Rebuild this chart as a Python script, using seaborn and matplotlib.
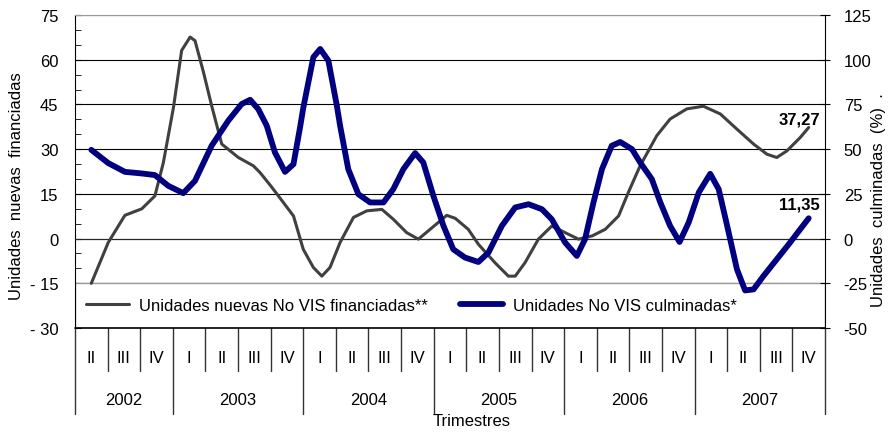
import numpy as np
import pandas as pd
import matplotlib
matplotlib.use("Agg")
import matplotlib.pyplot as plt
import matplotlib.transforms as mtransforms
from matplotlib.patches import Rectangle
import seaborn as sns

# time axis in quarters, 0 = 2002 II ... 22 = 2007 IV
t_fin = [0, 0.52, 1.03, 1.55, 1.95, 2.21, 2.52, 2.77, 3.03, 3.18, 3.44, 3.69, 4.0,
         4.51, 4.97, 5.17, 5.48, 5.69, 6.2, 6.5, 6.81, 7.07, 7.32, 7.63, 8.04, 8.45,
         8.91, 9.26, 9.67, 10.03, 10.39, 10.9, 11.16, 11.56, 11.87, 12.38, 12.79, 13.0,
         13.3, 13.71, 14.12, 14.53, 14.94, 15.36, 15.76, 16.17, 16.47, 16.83, 17.34,
         17.75, 18.26, 18.77, 19.29, 19.8, 20.31, 20.72, 21.02, 21.33, 21.74, 22.0]
financiadas = [-15.0, -1.3, 7.8, 10.0, 14.3, 25.5, 44.0, 63.1, 67.6, 66.4, 55.8, 44.6, 31.7,
               27.2, 24.4, 22.2, 18.0, 15.0, 7.6, -3.6, -9.7, -12.6, -9.7, -1.3, 7.1, 9.3,
               9.8, 6.5, 2.0, -0.2, 3.1, 7.8, 6.8, 3.1, -1.9, -8.1, -12.6, -12.6,
               -8.1, -0.2, 4.2, 2.0, -0.2, 0.9, 3.1, 7.6, 15.5, 24.4, 34.5,
               40.1, 43.5, 44.4, 41.8, 36.7, 31.7, 28.3, 27.2, 29.4, 33.9, 37.27]

t_cul = [0, 0.52, 1.03, 1.55, 1.95, 2.36, 2.82, 3.18, 3.69, 4.2, 4.61, 4.87, 5.12, 5.38,
         5.63, 5.94, 6.2, 6.4, 6.5, 6.81, 7.02, 7.27, 7.53, 7.63, 7.88, 8.19, 8.55, 8.96, 9.26,
         9.57, 9.93, 10.18, 10.49, 10.8, 11.1, 11.46, 11.87, 12.18, 12.59, 13.0, 13.41,
         13.82, 14.12, 14.53, 14.89, 15.14, 15.4, 15.66, 15.96, 16.22, 16.58, 16.83,
         17.19, 17.45, 17.75, 18.04, 18.32, 18.63, 18.98, 19.24, 19.5, 19.8, 20.05,
         20.31, 20.61, 21.02, 21.43, 21.74, 22.0]
culminadas = [49.6, 42.2, 37.3, 36.4, 35.5, 29.5, 25.4, 32.3, 51.9, 65.9, 75.2, 77.6, 72.4, 63.1,
              48.2, 37.3, 41.6, 62.0, 73.0, 101.4, 106.0, 99.5, 74.3, 63.1, 38.8, 24.8, 20.2, 20.2, 27.6,
              38.8, 47.8, 42.6, 23.9, 7.1, -6.0, -10.6, -13.1, -7.8, 7.1, 17.4, 19.2,
              16.4, 10.8, -2.2, -9.7, -0.4, 20.2, 38.8, 51.9, 54.0, 50.0, 42.6,
              33.2, 20.2, 7.1, -1.9, 9.0, 25.8, 36.2, 27.6, 7.1, -17.2, -29.0,
              -28.4, -21.0, -11.6, -2.2, 5.2, 11.35]

quarters = ["II", "III", "IV"] + ["I", "II", "III", "IV"] * 5
years = ["2002", "2003", "2004", "2005", "2006", "2007"]
quarters_per_year = [3, 4, 4, 4, 4, 4]

left_ticks = [-30, -15, 0, 15, 30, 45, 60, 75]
left_ticklabels = ["- 30", "- 15", "0", "15", "30", "45", "60", "75"]
right_ticks = [-50, -25, 0, 25, 50, 75, 100, 125]
right_ticklabels = ["-50", "-25", "0", "25", "50", "75", "100", "125"]

df_fin = pd.DataFrame({"t": t_fin, "v": financiadas})
df_cul = pd.DataFrame({"t": t_cul, "v": culminadas})

sns.set_style("white")
plt.rcParams["font.family"] = ["Liberation Sans", "DejaVu Sans"]
plt.rcParams["font.size"] = 12
plt.rcParams["text.color"] = "black"
plt.rcParams["axes.labelcolor"] = "black"
plt.rcParams["xtick.color"] = "black"
plt.rcParams["ytick.color"] = "black"

fig = plt.figure(figsize=(8.93, 4.35), dpi=100)
ax = fig.add_axes([75 / 893, 1 - 329 / 435, 750 / 893, 313 / 435])

sns.lineplot(data=df_fin, x="t", y="v", ax=ax, color="#404040", lw=2.2,
             estimator=None, sort=False, legend=False, zorder=3)
ax.set_xlim(-0.5, len(quarters) - 0.5)
ax.set_ylim(-30, 75)

ax2 = ax.twinx()
sns.lineplot(data=df_cul, x="t", y="v", ax=ax2, color="#000080", lw=4.2,
             estimator=None, sort=False, legend=False, zorder=3)
ax2.set_ylim(-50, 125)

# legend box between -15 and -30
box = Rectangle((0, -30), 1, 15, transform=mtransforms.blended_transform_factory(ax.transAxes, ax.transData),
                facecolor="white", edgecolor="#9a9a9a", lw=1, zorder=1)
ax.add_patch(box)
l1 = ax.get_lines()[0]
l2 = ax2.get_lines()[0]
leg = ax.legend([l1, l2], ["Unidades nuevas No VIS financiadas**", "Unidades No VIS culminadas*"],
                loc="center left", bbox_to_anchor=(0, 7.5 / 105), ncol=2,
                frameon=False, fontsize=12, handlelength=2.6, handletextpad=0.6,
                columnspacing=1.9, borderaxespad=0.25)

# grid and axes
ax.set_yticks(left_ticks)
ax.set_yticklabels(left_ticklabels)
ax.set_yticks(np.arange(-30, 76, 5), minor=True)
ax.yaxis.grid(True, color="black", lw=0.8, zorder=0)
ax.set_axisbelow(True)
ax.tick_params(axis="y", which="both", direction="in", length=4, color="black", pad=12,
               labelsize=12, labelcolor="black")
ax.spines["bottom"].set_position(("data", 0))
ax.spines["top"].set_color("#9a9a9a")
ax.spines["left"].set_color("black")
ax.spines["right"].set_visible(False)
ax.axhline(-30, color="black", lw=1.2, clip_on=False, zorder=4)
ax.set_xticks(np.arange(0, len(quarters) - 0.4, 0.5))
ax.tick_params(axis="x", direction="in", length=4, color="black", labelbottom=False)
ax.set_xlabel("")
ax.set_ylabel("")

ax2.set_yticks(right_ticks)
ax2.set_yticklabels(right_ticklabels)
ax2.tick_params(axis="y", direction="inout", length=7, color="black", pad=10,
                labelsize=12, labelcolor="black")
for s in ["left", "top", "bottom"]:
    ax2.spines[s].set_visible(False)
ax2.spines["right"].set_color("black")
ax2.set_ylabel("")
ax2.grid(False)

# end labels
ax.annotate(f"{financiadas[-1]:.2f}".replace(".", ","), (t_fin[-1], financiadas[-1]),
            xytext=(8, 1), textcoords="offset points", ha="right", va="bottom",
            fontsize=12, fontweight="bold")
ax2.annotate(f"{culminadas[-1]:.2f}".replace(".", ","), (t_cul[-1], culminadas[-1]),
             xytext=(8, 5), textcoords="offset points", ha="right", va="bottom",
             fontsize=12, fontweight="bold")

# category axis below the plot
trans = mtransforms.blended_transform_factory(ax.transData, ax.transAxes)
for i, q in enumerate(quarters):
    ax.text(i, -0.0927, q, transform=trans, ha="center", va="center", fontsize=12)
year_edges = np.concatenate([[0], np.cumsum(quarters_per_year)]) - 0.5
for k in range(len(quarters) + 1):
    edge = k - 0.5
    low = -0.275 if np.isclose(year_edges, edge).any() else -0.137
    ax.plot([edge, edge], [0, low], transform=trans, color="#333333", lw=1, clip_on=False)
for y, a, b in zip(years, year_edges[:-1], year_edges[1:]):
    ax.text((a + b) / 2, -0.227, y, transform=trans, ha="center", va="center", fontsize=12)

fig.text(472 / 893, 1 - 422 / 435, "Trimestres", ha="center", va="center", fontsize=12)
fig.text(17 / 893, 1 - 186 / 435, "Unidades  nuevas  financiadas", rotation=90,
         ha="center", va="center", fontsize=12)
fig.text(879 / 893, 1 - 200 / 435, "Unidades  culminadas  (%)  .", rotation=90,
         ha="center", va="center", fontsize=12)

fig.savefig("out.png", dpi=100)
